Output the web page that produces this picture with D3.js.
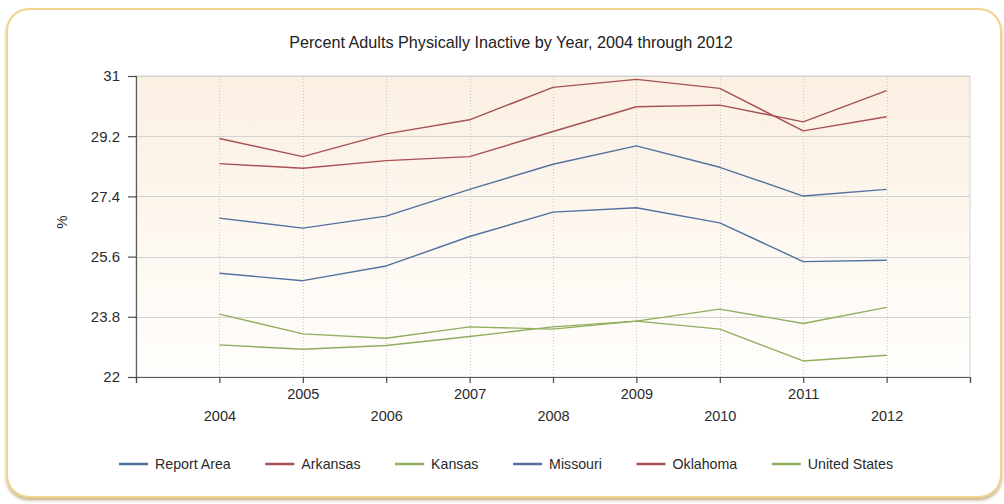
<!DOCTYPE html>
<html>
<head>
<meta charset="utf-8">
<script src="https://cdn.jsdelivr.net/npm/d3@7"></script>
<style>
  html, body { margin: 0; padding: 0; background: #ffffff; }
  svg { display: block; font-family: "Liberation Sans", Arial, sans-serif; }
</style>
</head>
<body>
<svg id="chart" width="1004" height="504"></svg>
<script>
// ---- data ----
const years = [2004, 2005, 2006, 2007, 2008, 2009, 2010, 2011, 2012];
const reportArea   = [26.75, 26.45, 26.81, 27.61, 28.36, 28.91, 28.27, 27.41, 27.61];
const arkansas     = [29.13, 28.59, 29.27, 29.69, 30.66, 30.90, 30.63, 29.36, 29.78];
const kansas       = [22.96, 22.83, 22.94, 23.21, 23.50, 23.67, 23.43, 22.48, 22.65];
const missouri     = [25.10, 24.88, 25.32, 26.20, 26.93, 27.06, 26.61, 25.45, 25.49];
const oklahoma     = [28.38, 28.24, 28.47, 28.59, 29.34, 30.08, 30.13, 29.63, 30.56];
const unitedStates = [23.88, 23.29, 23.16, 23.50, 23.43, 23.67, 24.03, 23.60, 24.08];
const seriesNames  = ["Report Area", "Arkansas", "Kansas", "Missouri", "Oklahoma", "United States"];
const yTicks = [22, 23.8, 25.6, 27.4, 29.2, 31];
const xTicks = [2003, 2004, 2005, 2006, 2007, 2008, 2009, 2010, 2011, 2012, 2013];
const titleText = "Percent Adults Physically Inactive by Year, 2004 through 2012";
const yTitle = "%";

const seriesValues = [reportArea, arkansas, kansas, missouri, oklahoma, unitedStates];
const colors = ["#52719f", "#a65153", "#91ae60", "#52719f", "#a65153", "#91ae60"];

// ---- layout ----
const svg = d3.select("#chart");
const plot = { left: 136, right: 970, top: 76, bottom: 377 };

const defs = svg.append("defs");
const grad = defs.append("linearGradient").attr("id", "bg").attr("x1", 0).attr("y1", 0).attr("x2", 0).attr("y2", 1);
grad.append("stop").attr("offset", "0%").attr("stop-color", "#fbf0e2");
grad.append("stop").attr("offset", "100%").attr("stop-color", "#fffefc");
const shadow = defs.append("filter").attr("id", "shadow").attr("x", "-5%").attr("y", "-5%").attr("width", "110%").attr("height", "115%");
shadow.append("feDropShadow").attr("dx", 0).attr("dy", 2.5).attr("stdDeviation", 1.6)
  .attr("flood-color", "#9a7a40").attr("flood-opacity", 0.55);

// outer frame
svg.append("rect")
  .attr("x", 7).attr("y", 9).attr("width", 994).attr("height", 488)
  .attr("rx", 22).attr("ry", 22)
  .attr("fill", "#ffffff").attr("stroke", "#f1d58e").attr("stroke-width", 2)
  .attr("filter", "url(#shadow)");

// scales
const x = d3.scaleLinear().domain([2003, 2013]).range([plot.left, plot.right]);
const y = d3.scaleLinear().domain([22, 31]).range([plot.bottom, plot.top]);

// plot background
svg.append("rect")
  .attr("x", plot.left).attr("y", plot.top)
  .attr("width", plot.right - plot.left).attr("height", plot.bottom - plot.top)
  .attr("fill", "url(#bg)").attr("stroke", "#d4d4d4").attr("stroke-width", 1);

// horizontal gridlines
svg.append("g").selectAll("line").data(yTicks.slice(1)).join("line")
  .attr("x1", plot.left).attr("x2", plot.right)
  .attr("y1", d => Math.round(y(d)) + 0.5).attr("y2", d => Math.round(y(d)) + 0.5)
  .attr("stroke", "#d2d2d2").attr("stroke-width", 1);

// vertical dotted gridlines
svg.append("g").selectAll("line").data(years).join("line")
  .attr("x1", d => Math.round(x(d)) + 0.5).attr("x2", d => Math.round(x(d)) + 0.5)
  .attr("y1", plot.top).attr("y2", plot.bottom)
  .attr("stroke", "#c8c8c8").attr("stroke-width", 1).attr("stroke-dasharray", "1,2");

// axes
const yAxis = svg.append("g")
  .attr("transform", `translate(${plot.left},0)`)
  .call(d3.axisLeft(y).tickValues(yTicks).tickFormat(d3.format("")).tickSize(8).tickPadding(8));
const xAxis = svg.append("g")
  .attr("transform", `translate(0,${plot.bottom})`)
  .call(d3.axisBottom(x).tickValues(xTicks).tickFormat(d => (years.includes(d) ? String(d) : "")).tickSize(6).tickPadding(4));

[yAxis, xAxis].forEach(g => {
  g.select(".domain").attr("stroke", "#5a5a5a").attr("stroke-width", 1.2);
  g.selectAll(".tick line").attr("stroke", "#4a4a4a").attr("stroke-width", 1.2);
  g.selectAll("text").attr("fill", "#2b2b2b")
    .attr("font-family", "'Liberation Sans', Arial, sans-serif");
});
yAxis.selectAll("text").attr("font-size", 15);
xAxis.selectAll("text").attr("font-size", 14.5);
xAxis.selectAll(".tick text").attr("y", d => (d % 2 === 1 ? 12 : 34));

// y title
svg.append("text")
  .attr("transform", "translate(67,222) rotate(-90)")
  .attr("text-anchor", "middle").attr("font-size", 15).attr("fill", "#2b2b2b")
  .text(yTitle);

// title
svg.append("text")
  .attr("x", 511).attr("y", 48).attr("text-anchor", "middle")
  .attr("font-size", 16.2).attr("fill", "#222")
  .text(titleText);

// lines
const line = d3.line().x((d, i) => x(years[i])).y(d => y(d));
svg.append("g").selectAll("path").data(seriesValues).join("path")
  .attr("d", d => line(d))
  .attr("fill", "none")
  .attr("stroke", (d, i) => colors[i])
  .attr("stroke-width", 1.4)
  .attr("stroke-linejoin", "round");

// legend
const legend = svg.append("g");
const items = legend.selectAll("g").data(seriesNames).join("g");
items.append("line")
  .attr("x1", 0).attr("x2", 29).attr("y1", 0).attr("y2", 0)
  .attr("stroke", (d, i) => colors[i]).attr("stroke-width", 2.5);
items.append("text")
  .attr("x", 36).attr("y", 5)
  .attr("font-size", 14.2).attr("fill", "#2b2b2b")
  .text(d => d);
const widths = [];
items.each(function () {
  widths.push(36 + d3.select(this).select("text").node().getComputedTextLength());
});
const legendStart = 119, legendEnd = 893;
const totalW = d3.sum(widths);
const gap = (legendEnd - legendStart - totalW) / (widths.length - 1);
let cx = legendStart;
items.attr("transform", (d, i) => {
  const t = `translate(${cx},464)`;
  cx += widths[i] + gap;
  return t;
});
</script>
</body>
</html>
